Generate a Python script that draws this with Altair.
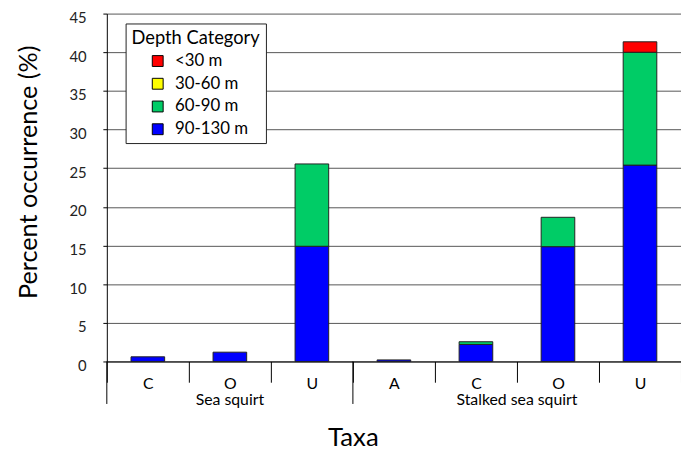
import altair as alt
import pandas as pd

groups = ["Sea squirt", "Sea squirt", "Sea squirt",
          "Stalked sea squirt", "Stalked sea squirt", "Stalked sea squirt", "Stalked sea squirt"]
taxa = ["C", "O", "U", "A", "C", "O", "U"]
depths = ["<30 m", "30-60 m", "60-90 m", "90-130 m"]
depth_colors = ["#FF0000", "#FFFF00", "#00CC66", "#0000FF"]

d_90_130 = [0.6, 1.2, 14.9, 0.2, 2.2, 14.85, 25.4]
d_60_90 = [0.0, 0.0, 10.65, 0.0, 0.35, 3.8, 14.6]
d_30_60 = [0.0, 0.0, 0.0, 0.0, 0.0, 0.0, 0.0]
d_lt30 = [0.0, 0.0, 0.0, 0.0, 0.0, 0.0, 1.35]

keys = [f"{g}|{t}" for g, t in zip(groups, taxa)]
series = [("90-130 m", d_90_130, 0), ("60-90 m", d_60_90, 1),
          ("30-60 m", d_30_60, 2), ("<30 m", d_lt30, 3)]
rows = []
for depth, vals, rank in series:
    for k, v in zip(keys, vals):
        if v > 0:
            rows.append({"key": k, "depth": depth, "value": v, "rank": rank})
df = pd.DataFrame(rows)

FONT = "Lato"
W, H = 581, 352

xscale = alt.Scale(domain=keys, paddingInner=0, paddingOuter=0)

bars = alt.Chart(df).mark_bar(
    width=alt.RelativeBandSize(0.41), stroke="#222222", strokeWidth=1
).encode(
    x=alt.X("key:N", scale=xscale, sort=keys,
            axis=alt.Axis(title="Taxa", tickBand="extent", tickSize=21, tickColor="black",
                          domainColor="black", labelExpr="split(datum.label, '|')[1]",
                          labelAngle=0, labelPadding=-7, labelFont=FONT, labelFontSize=16,
                          labelColor="black", titleFont=FONT, titleFontSize=26,
                          titleFontWeight="normal", titleColor="black",
                          titleBaseline="middle", titleX=249, titleY=77, grid=False)),
    y=alt.Y("value:Q", stack="zero",
            scale=alt.Scale(domain=[0, 45]),
            axis=alt.Axis(title="Percent occurrence (%)", values=list(range(0, 50, 5)),
                          tickSize=4, tickColor="black", domainColor="black",
                          labelPadding=17, labelOffset=4, labelFont=FONT, labelFontSize=15,
                          labelColor="#222222",
                          titleFont=FONT, titleFontSize=25.5, titleFontWeight="normal",
                          titleColor="black", titleX=-79, titleY=160, titleBaseline="middle",
                          titleAngle=-90, gridColor="#555555", gridWidth=1, gridOpacity=1)),
    color=alt.Color("depth:N", scale=alt.Scale(domain=depths, range=depth_colors),
                    legend=alt.Legend(title="Depth Category", orient="none",
                                      legendX=19, legendY=10, fillColor="white",
                                      strokeColor="#222222", padding=6,
                                      titleFont=FONT, titleFontSize=18.5, titleFontWeight="normal",
                                      titleColor="black", labelFont=FONT, labelFontSize=17,
                                      labelColor="black", symbolType="square", symbolSize=121,
                                      symbolStrokeColor="black", symbolStrokeWidth=1,
                                      symbolOffset=18, labelOffset=9, rowPadding=5)),
    order=alt.Order("rank:Q", sort="ascending"),
)

sep_df = pd.DataFrame({"key": [keys[0], keys[3]]})
seps = alt.Chart(sep_df).mark_rule(color="black", strokeWidth=1).encode(
    x=alt.X("key:N", scale=xscale, sort=keys, bandPosition=0),
    y=alt.value(H), y2=alt.value(H + 43),
)

grp1 = alt.Chart(pd.DataFrame({"key": [keys[1]], "label": [groups[0]]})).mark_text(
    font=FONT, fontSize=16, color="black", baseline="middle"
).encode(x=alt.X("key:N", scale=xscale, sort=keys, bandPosition=0.5),
         y=alt.value(H + 39), text="label:N")

grp2 = alt.Chart(pd.DataFrame({"key": [keys[4]], "label": [groups[3]]})).mark_text(
    font=FONT, fontSize=16, color="black", baseline="middle"
).encode(x=alt.X("key:N", scale=xscale, sort=keys, bandPosition=1),
         y=alt.value(H + 39), text="label:N")

chart = alt.layer(bars, seps, grp1, grp2).properties(
    width=W, height=H,
    autosize=alt.AutoSizeParams(type="none"),
    padding={"left": 100, "top": 3, "right": 0, "bottom": 93},
).configure_view(stroke=None).configure_axisX(grid=False)

chart.save("out.html", embed_options={"renderer": "svg", "actions": False})
